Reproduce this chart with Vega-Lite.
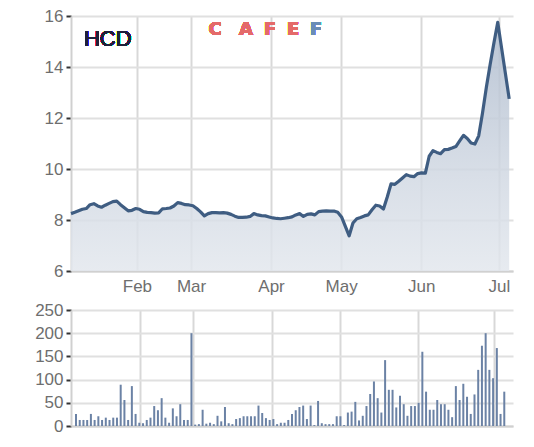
{
  "$schema": "https://vega.github.io/schema/vega-lite/v6.json",
  "background": "white",
  "padding": {"left": 34, "top": 7, "right": 20, "bottom": 5},
  "spacing": 7,
  "config": {
    "view": {"stroke": null},
    "font": "Liberation Sans",
    "axis": {
      "gridColor": "#e0e0e0",
      "gridWidth": 2,
      "domainColor": "#d0d0d0",
      "domainWidth": 2,
      "labelColor": "#6e6e6e",
      "labelFont": "Liberation Sans",
      "labelFontSize": 17,
      "title": null
    }
  },
  "data": {"values": [
    {"i":0,"p":8.25,"v":26},{"i":1,"p":8.30,"v":13},{"i":2,"p":8.36,"v":13},{"i":3,"p":8.42,"v":13},{"i":4,"p":8.45,"v":26},
    {"i":5,"p":8.60,"v":13},{"i":6,"p":8.64,"v":21},{"i":7,"p":8.55,"v":13},{"i":8,"p":8.50,"v":18},{"i":9,"p":8.58,"v":13},
    {"i":10,"p":8.65,"v":18},{"i":11,"p":8.72,"v":18},{"i":12,"p":8.74,"v":89},{"i":13,"p":8.60,"v":56},{"i":14,"p":8.48,"v":13},
    {"i":15,"p":8.36,"v":86},{"i":16,"p":8.38,"v":26},{"i":17,"p":8.45,"v":7},{"i":18,"p":8.42,"v":6},{"i":19,"p":8.33,"v":13},
    {"i":20,"p":8.30,"v":18},{"i":21,"p":8.29,"v":43},{"i":22,"p":8.27,"v":34},{"i":23,"p":8.28,"v":60},{"i":24,"p":8.44,"v":18},
    {"i":25,"p":8.45,"v":7},{"i":26,"p":8.47,"v":38},{"i":27,"p":8.55,"v":21},{"i":28,"p":8.68,"v":47},{"i":29,"p":8.65,"v":13},
    {"i":30,"p":8.60,"v":13},{"i":31,"p":8.59,"v":200},{"i":32,"p":8.56,"v":3},{"i":33,"p":8.45,"v":4},{"i":34,"p":8.32,"v":35},
    {"i":35,"p":8.16,"v":5},{"i":36,"p":8.25,"v":7},{"i":37,"p":8.29,"v":4},{"i":38,"p":8.29,"v":22},{"i":39,"p":8.28,"v":10},
    {"i":40,"p":8.29,"v":41},{"i":41,"p":8.27,"v":6},{"i":42,"p":8.22,"v":4},{"i":43,"p":8.15,"v":15},{"i":44,"p":8.10,"v":17},
    {"i":45,"p":8.10,"v":21},{"i":46,"p":8.11,"v":21},{"i":47,"p":8.14,"v":21},{"i":48,"p":8.25,"v":21},{"i":49,"p":8.20,"v":44},
    {"i":50,"p":8.17,"v":28},{"i":51,"p":8.16,"v":17},{"i":52,"p":8.12,"v":13},{"i":53,"p":8.08,"v":15},{"i":54,"p":8.06,"v":4},
    {"i":55,"p":8.05,"v":7},{"i":56,"p":8.07,"v":7},{"i":57,"p":8.09,"v":13},{"i":58,"p":8.12,"v":26},{"i":59,"p":8.20,"v":34},
    {"i":60,"p":8.25,"v":41},{"i":61,"p":8.14,"v":44},{"i":62,"p":8.22,"v":15},{"i":63,"p":8.24,"v":44},{"i":64,"p":8.20,"v":2},
    {"i":65,"p":8.33,"v":54},{"i":66,"p":8.35,"v":6},{"i":67,"p":8.36,"v":4},{"i":68,"p":8.35,"v":4},{"i":69,"p":8.35,"v":4},
    {"i":70,"p":8.30,"v":21},{"i":71,"p":8.12,"v":21},{"i":72,"p":7.75,"v":2},{"i":73,"p":7.38,"v":29},{"i":74,"p":7.88,"v":31},
    {"i":75,"p":8.05,"v":52},{"i":76,"p":8.10,"v":12},{"i":77,"p":8.16,"v":22},{"i":78,"p":8.20,"v":43},{"i":79,"p":8.40,"v":69},
    {"i":80,"p":8.58,"v":96},{"i":81,"p":8.55,"v":60},{"i":82,"p":8.43,"v":29},{"i":83,"p":8.90,"v":142},{"i":84,"p":9.42,"v":78},
    {"i":85,"p":9.40,"v":78},{"i":86,"p":9.52,"v":40},{"i":87,"p":9.65,"v":65},{"i":88,"p":9.78,"v":47},{"i":89,"p":9.72,"v":22},
    {"i":90,"p":9.70,"v":43},{"i":91,"p":9.82,"v":43},{"i":92,"p":9.85,"v":50},{"i":93,"p":9.84,"v":160},{"i":94,"p":10.50,"v":74},
    {"i":95,"p":10.72,"v":35},{"i":96,"p":10.65,"v":35},{"i":97,"p":10.60,"v":56},{"i":98,"p":10.76,"v":47},{"i":99,"p":10.77,"v":47},
    {"i":100,"p":10.82,"v":35},{"i":101,"p":10.88,"v":19},{"i":102,"p":11.10,"v":86},{"i":103,"p":11.32,"v":56},{"i":104,"p":11.20,"v":91},
    {"i":105,"p":11.02,"v":63},{"i":106,"p":10.98,"v":26},{"i":107,"p":11.30,"v":68},{"i":108,"p":12.20,"v":121},{"i":109,"p":13.20,"v":173},
    {"i":110,"p":14.10,"v":200},{"i":111,"p":14.95,"v":121},{"i":112,"p":15.75,"v":103},{"i":113,"p":14.75,"v":168},{"i":114,"p":13.75,"v":26},
    {"i":115,"p":12.75,"v":74}
  ]},
  "vconcat": [
    {
      "width": 442,
      "height": 255,
      "encoding": {
        "x": {"field": "i", "type": "quantitative",
              "scale": {"domain": [0, 116], "nice": false, "zero": false},
              "axis": {"values": [17.3, 31.5, 52.5, 70.9, 91.9, 112.3],
                       "labelExpr": "datum.value < 20 ? 'Feb' : datum.value < 40 ? 'Mar' : datum.value < 60 ? 'Apr' : datum.value < 80 ? 'May' : datum.value < 100 ? 'Jun' : 'Jul'",
                       "ticks": false, "labelPadding": 7, "gridColor": "#d8d8d8"}},
        "y": {"field": "p", "type": "quantitative",
              "scale": {"domain": [6, 16], "nice": false, "zero": false},
              "axis": {"values": [6, 8, 10, 12, 14, 16], "tickColor": "#333333", "tickSize": 5, "tickWidth": 2, "labelPadding": 3}}
      },
      "layer": [
        {"mark": {"type": "area", "clip": true, "opacity": 0.85,
                  "color": {"gradient": "linear", "x1": 0, "y1": 0, "x2": 0, "y2": 1,
                            "stops": [{"offset": 0, "color": "#aebbcd"}, {"offset": 0.4, "color": "#d3dae4"}, {"offset": 0.75, "color": "#eceff3"}, {"offset": 1, "color": "#fafbfc"}]}}},
        {"mark": {"type": "line", "color": "#3f5d82", "strokeWidth": 3.2, "strokeJoin": "round"}},
        {"mark": {"type": "text", "align": "left", "baseline": "middle", "font": "Liberation Sans", "fontSize": 22, "color": "#20203a"},
         "encoding": {"x": {"datum": 3.4}, "y": {"datum": 15.1}, "text": {"value": "HCD"}}},
        {"mark": {"type": "text", "align": "center", "baseline": "middle", "font": "DejaVu Sans", "fontWeight": "bold", "fontSize": 18, "color": "#e46a6a"},
         "encoding": {"x": {"datum": 37.8}, "y": {"datum": 15.45}, "text": {"value": "C"}}},
        {"mark": {"type": "text", "align": "center", "baseline": "middle", "font": "DejaVu Sans", "fontWeight": "bold", "fontSize": 18, "color": "#e46a6a"},
         "encoding": {"x": {"datum": 45.9}, "y": {"datum": 15.45}, "text": {"value": "A"}}},
        {"mark": {"type": "text", "align": "center", "baseline": "middle", "font": "DejaVu Sans", "fontWeight": "bold", "fontSize": 18, "color": "#e46a6a"},
         "encoding": {"x": {"datum": 52.2}, "y": {"datum": 15.45}, "text": {"value": "F"}}},
        {"mark": {"type": "text", "align": "center", "baseline": "middle", "font": "DejaVu Sans", "fontWeight": "bold", "fontSize": 18, "color": "#e46a6a"},
         "encoding": {"x": {"datum": 58.3}, "y": {"datum": 15.45}, "text": {"value": "E"}}},
        {"mark": {"type": "text", "align": "center", "baseline": "middle", "font": "DejaVu Sans", "fontWeight": "bold", "fontSize": 18, "color": "#6a8db5"},
         "encoding": {"x": {"datum": 64.3}, "y": {"datum": 15.45}, "text": {"value": "F"}}}
      ]
    },
    {
      "width": 442,
      "height": 116,
      "mark": {"type": "bar", "size": 2, "color": "#6b82a5"},
      "encoding": {
        "x": {"field": "i", "type": "quantitative",
              "scale": {"domain": [0, 116], "nice": false, "zero": false},
              "axis": {"values": [17.3, 31.5, 52.5, 70.9, 91.9, 112.3], "labels": false, "ticks": false, "gridColor": "#d8d8d8"}},
        "y": {"field": "v", "type": "quantitative",
              "scale": {"domain": [0, 250], "nice": false},
              "axis": {"values": [0, 50, 100, 150, 200, 250], "tickColor": "#333333", "tickSize": 5, "tickWidth": 2, "labelPadding": 3}}
      }
    }
  ]
}
